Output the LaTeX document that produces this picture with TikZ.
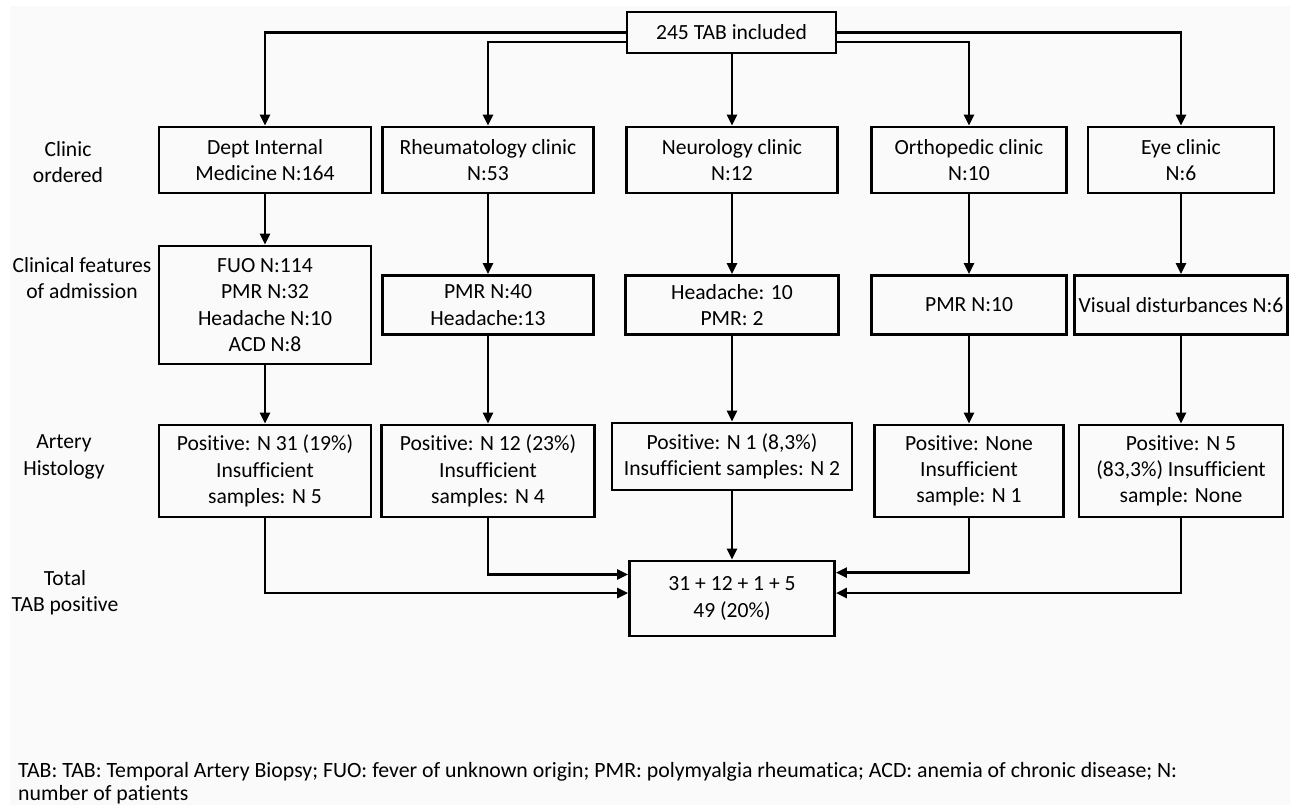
\documentclass[tikz,border=0pt]{standalone}
\usepackage{fontspec}
\setmainfont{Carlito}[Ligatures=NoCommon]
\usetikzlibrary{arrows.meta}
\definecolor{bgc}{RGB}{250,250,250}
\newcommand{\boxfont}{\fontsize{21.6}{26.3}\selectfont}
\newcommand{\footfont}{\fontsize{21.8}{23}\selectfont}
\begin{document}
\begin{tikzpicture}[x=1pt,y=-1pt,
  box/.style={draw, line width=2.8pt, align=center, inner sep=0pt, font=\boxfont},
  lbl/.style={align=center, inner sep=0pt, font=\boxfont},
  conn/.style={line width=2.5pt, -{Triangle[length=11pt,width=10pt]}},
  foot/.style={anchor=base west, inner sep=0pt, font=\footfont}
]
\useasboundingbox (0,0) rectangle (1290,805);
\fill[white] (0,0) rectangle (1290,805);
\fill[bgc] (10,6) rectangle (1290,805);

% top
\node[box, minimum width=209pt, minimum height=41pt] (top) at (731.5,32.5) {245 TAB included};

% clinic row
\node[box, minimum width=212pt, minimum height=66pt] (c1) at (265,160) {Dept Internal\\Medicine N:164};
\node[box, minimum width=211pt, minimum height=66pt] (c2) at (488,160) {Rheumatology clinic\\N:53};
\node[box, minimum width=211pt, minimum height=66pt] (c3) at (732,160) {Neurology clinic\\N:12};
\node[box, minimum width=195pt, minimum height=66pt] (c4) at (969,160) {Orthopedic clinic\\N:10};
\node[box, minimum width=186pt, minimum height=66pt] (c5) at (1181,160) {Eye clinic\\N:6};

% features row
\node[box, minimum width=212pt, minimum height=118pt] (f1) at (265,305) {FUO N:114\\PMR N:32\\Headache N:10\\ACD N:8};
\node[box, minimum width=211pt, minimum height=59pt] (f2) at (488,305) {PMR N:40\\Headache:13};
\node[box, minimum width=213pt, minimum height=59pt] (f3) at (732,305) {Headache: 10\\PMR: 2};
\node[box, minimum width=195pt, minimum height=59pt] (f4) at (969,305) {PMR N:10};
\node[box, minimum width=213pt, minimum height=59pt] (f5) at (1181,305) {Visual disturbances N:6};

% histology row
\node[box, minimum width=212pt, minimum height=92pt] (h1) at (265,471) {Positive: N 31 (19\%)\\Insufficient\\samples: N 5};
\node[box, minimum width=213pt, minimum height=92pt] (h2) at (488,471) {Positive: N 12 (23\%)\\Insufficient\\samples: N 4};
\node[box, minimum width=240pt, minimum height=67pt] (h3) at (732,456.5) {Positive: N 1 (8,3\%)\\Insufficient samples: N 2};
\node[box, minimum width=189pt, minimum height=92pt] (h4) at (969,471) {Positive: None\\Insufficient\\sample: N 1};
\node[box, minimum width=204pt, minimum height=92pt] (h5) at (1181,471) {Positive: N 5\\(83,3\%) Insufficient\\sample: None};

% total
\node[box, minimum width=205pt, minimum height=75pt] (t) at (732,598.5) {31 + 12 + 1 + 5\\49 (20\%)};

% left labels
\node[lbl] (l1) at (68,162) {Clinic\\ordered};
\node[lbl] (l2) at (82,278) {Clinical features\\of admission};
\node[lbl] (l3) at (64,457) {Artery\\Histology};
\node[lbl] (l4) at (65,593) {Total\\TAB positive};

% footer
\node[foot] (ft1) at (18,777) {TAB: TAB: Temporal Artery Biopsy; FUO: fever of unknown origin; PMR: polymyalgia rheumatica; ACD: anemia of chronic disease; N:};
\node[foot] (ft2) at (18,800) {number of patients};

% connectors from top
\draw[conn] (top.west) -| (c1.north);
\draw[conn] (top.185) -| (c2.north);
\draw[conn] (top.south -| c3.north) -- (c3.north);
\draw[conn] (top.-5) -| (c4.north);
\draw[conn] (top.east) -| (c5.north);

% column arrows
\foreach \i in {1,...,5} {
  \draw[conn] (c\i.south) -- (f\i.north);
  \draw[conn] (f\i.south) -- (h\i.north);
}

% to total
\draw[conn] (h3.south) -- (t.north);
\draw[conn] (h2.south) |- (t.167);
\draw[conn] (h1.south) |- (t.177);
\draw[conn] (h4.south) |- (t.14);
\draw[conn] (h5.south) |- (t.3);
\end{tikzpicture}
\end{document}
